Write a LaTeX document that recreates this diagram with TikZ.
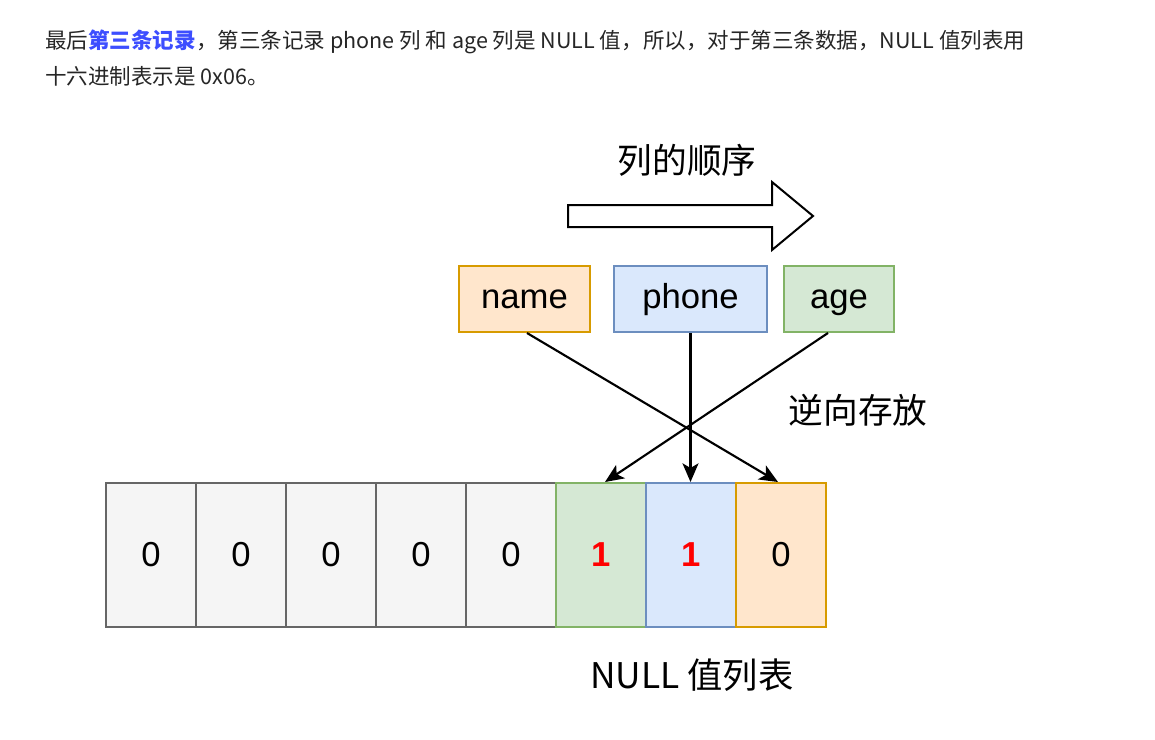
\documentclass[tikz,border=0pt]{standalone}
\usepackage{fontspec}
\setmainfont{Liberation Sans}
\newfontfamily\cjk{Noto Sans CJK SC}
\usetikzlibrary{arrows.meta,calc}
\definecolor{txt}{HTML}{262626}
\definecolor{linkblue}{HTML}{3D4EFF}
\definecolor{grayfill}{HTML}{F5F5F5}
\definecolor{graystroke}{HTML}{666666}
\definecolor{greenfill}{HTML}{D5E8D4}
\definecolor{greenstroke}{HTML}{82B366}
\definecolor{bluefill}{HTML}{DAE8FC}
\definecolor{bluestroke}{HTML}{6C8EBF}
\definecolor{orangefill}{HTML}{FFE6CC}
\definecolor{orangestroke}{HTML}{D79B00}
\begin{document}
\begin{tikzpicture}[x=0.75pt,y=-0.75pt,
  para/.style={anchor=base west,inner sep=0pt,text=txt,font=\cjk\fontsize{16.15pt}{18pt}\selectfont},
  cjklabel/.style={inner sep=0pt,font=\cjk\fontsize{26pt}{30pt}\selectfont},
  colbox/.style={draw,line width=1.5pt,minimum height=49.5pt,inner sep=0pt,text height=19pt,text depth=5pt,font=\fontsize{26pt}{30pt}\selectfont},
  cell/.style={draw,line width=1.5pt,minimum width=67.5pt,minimum height=108pt,inner sep=0pt,font=\fontsize{26pt}{30pt}\selectfont},
  gcell/.style={cell,fill=grayfill,draw=graystroke},
  conn/.style={line width=1.6pt,-{Stealth[length=14pt,width=12pt,inset=3.5pt]}}
]
\useasboundingbox[fill=white] (0,0) rectangle (1155,739);

% paragraph
\node[para] (p1) at (45,48) {最后{\color{linkblue}\bfseries 第三条记录}，第三条记录 phone 列 和 age 列是 NULL 值，所以，对于第三条数据，NULL 值列表用};
\node[para] (p2) at (45,84) {十六进制表示是 0x06。};

% order arrow
\node[cjklabel] (order) at (687,160) {列的顺序};
\draw[line width=1.5pt,fill=white] (568,205) -- (772,205) -- (772,182) -- (813,216) -- (772,250) -- (772,227) -- (568,227) -- cycle;

% column boxes
\node[colbox,fill=orangefill,draw=orangestroke,minimum width=98.25pt] (name) at (524.5,299) {name};
\node[colbox,fill=bluefill,draw=bluestroke,minimum width=114.75pt] (phone) at (690.5,299) {phone};
\node[colbox,fill=greenfill,draw=greenstroke,minimum width=82.5pt] (age) at (839,299) {age};

\node[cjklabel] (rev) at (858,410) {逆向存放};

% cells
\foreach \i in {1,...,5}{
  \node[gcell] (c\i) at ({151+90*(\i-1)},555) {0};
}
\node[cell,fill=greenfill,draw=greenstroke,text=red,font=\bfseries\fontsize{26pt}{30pt}\selectfont] (c6) at (601,555) {1};
\node[cell,fill=bluefill,draw=bluestroke,text=red,font=\bfseries\fontsize{26pt}{30pt}\selectfont] (c7) at (691,555) {1};
\node[cell,fill=orangefill,draw=orangestroke] (c8) at (781,555) {0};

\node[cjklabel,font=\cjk\fontsize{26.5pt}{30pt}\selectfont] (nulllist) at (692,675) {NULL 值列表};

% connectors
\draw[conn] ($(name.south)+(2.5,0)$) -- ($(c8.north)+(-3,0)$);
\draw[conn] (phone.south) -- ($(c7.north)+(-0.5,0)$);
\draw[conn] ($(age.south)+(-11,0)$) -- ($(c6.north)+(4,0)$);
\end{tikzpicture}
\end{document}
